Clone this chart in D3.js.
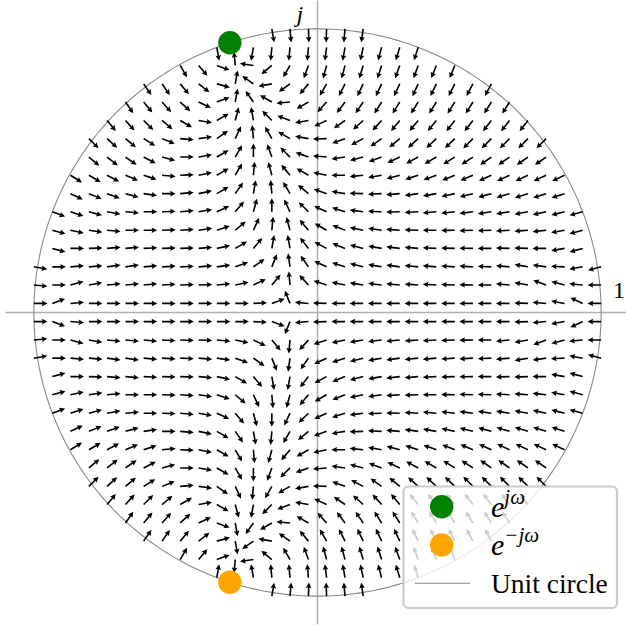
<!DOCTYPE html>
<html lang="en">
<head>
  <meta charset="utf-8">
  <title>gradient field</title>
  <script src="https://d3js.org/d3.v7.min.js"></script>
  <style>
  * { margin:0; padding:0; }
  body { background:#fff; }
  text { font-family: "Liberation Serif", "Times New Roman", serif; }
  </style>
</head>
<body>
  <div id="chart"></div>
  <script type="text/javascript">
  var W=626, H=626;

  // arrow grid (same values along re and im)
  var gridVals=[-1.000,-0.935,-0.871,-0.806,-0.742,-0.677,-0.613,-0.548,-0.484,-0.419,-0.355,-0.290,-0.226,-0.161,-0.097,-0.032,
                 0.032, 0.097, 0.161, 0.226, 0.290, 0.355, 0.419, 0.484, 0.548, 0.613, 0.677, 0.742, 0.806, 0.871, 0.935, 1.000];

  // arrow directions in degrees (0 = right, 90 = up), one row per im value from +1 down to -1
  var _=null;
  var angles=[
    [_,_,_,_,_,_,_,_,_,_,_,_,_,280,275,272,268,265,262,_,_,_,_,_,_,_,_,_,_,_,_,_],
    [_,_,_,_,_,_,_,_,_,_,280,150,260,265,265,265,263,260,258,255,253,252,_,_,_,_,_,_,_,_,_,_],
    [_,_,_,_,_,_,_,_,300,310,340,95,172,220,240,250,255,255,253,252,250,250,248,248,_,_,_,_,_,_,_,_],
    [_,_,_,_,_,_,305,305,310,322,345,80,145,190,215,230,240,243,245,245,245,245,244,243,242,242,_,_,_,_,_,_],
    [_,_,_,_,_,305,310,312,318,335,20,80,125,150,185,210,228,233,236,238,238,238,238,238,238,238,238,_,_,_,_,_],
    [_,_,_,_,310,312,315,320,330,350,30,75,100,135,160,190,205,215,222,228,230,230,231,232,232,232,232,232,_,_,_,_],
    [_,_,_,315,318,320,328,338,355,8,35,65,95,120,150,170,182,200,208,215,220,222,223,224,225,225,225,225,225,_,_,_],
    [_,_,_,320,322,325,333,345,0,10,30,60,90,110,135,160,175,188,195,200,205,208,210,212,213,215,215,215,215,_,_,_],
    [_,_,328,330,332,337,342,355,2,12,30,60,85,105,130,150,168,180,186,190,195,198,200,202,203,204,205,205,205,205,_,_],
    [_,_,335,338,340,345,352,0,5,12,30,55,80,95,120,140,160,170,178,182,185,188,190,192,194,195,196,197,198,198,_,_],
    [_,340,342,345,350,355,0,2,5,10,25,50,75,90,115,135,155,162,172,178,181,183,185,186,187,188,189,190,192,194,195,_],
    [_,345,348,352,355,0,0,2,3,8,18,40,65,85,105,130,150,158,168,172,176,178,180,181,182,182,183,184,186,190,195,_],
    [_,345,0,2,5,5,3,2,2,5,12,30,50,80,100,128,152,158,165,170,173,175,177,178,179,180,178,178,180,190,195,_],
    [350,0,5,5,8,8,5,3,2,5,8,20,35,68,98,125,155,162,166,170,172,174,175,176,177,178,175,170,172,178,190,195],
    [355,0,15,10,5,5,5,3,2,2,5,12,25,50,95,132,162,168,171,173,175,176,177,178,179,180,175,170,160,165,175,180],
    [0,20,5,0,0,0,0,0,0,0,0,0,3,20,112,175,178,180,180,180,180,180,180,180,180,180,180,178,175,170,155,180],
    [0,340,355,0,0,0,0,0,0,0,0,0,357,340,248,185,182,180,180,180,180,180,180,180,180,180,180,182,185,190,205,180],
    [5,0,345,350,355,355,355,357,358,358,355,348,335,310,265,228,198,192,189,187,185,184,183,182,181,180,185,190,200,195,185,180],
    [10,0,355,355,352,352,355,357,358,355,352,340,325,292,262,235,205,198,194,190,188,186,185,184,183,182,185,190,188,182,170,165],
    [_,15,0,358,355,355,357,358,358,355,348,330,310,280,260,232,208,202,195,190,187,185,183,182,181,180,182,182,180,170,165,_],
    [_,15,12,8,5,0,0,358,357,352,342,320,295,275,255,230,210,202,192,188,184,182,180,179,178,178,177,176,174,170,165,_],
    [_,20,18,15,10,5,0,358,355,350,335,310,285,270,245,225,205,198,188,182,179,177,175,174,173,172,171,170,168,166,165,_],
    [_,_,25,22,20,15,8,0,355,348,330,305,280,265,240,220,200,190,182,178,175,172,170,168,166,165,164,163,162,162,_,_],
    [_,_,32,30,28,23,18,5,358,348,330,300,275,255,230,210,192,180,174,170,165,162,160,158,157,156,155,155,155,155,_,_],
    [_,_,_,40,38,35,27,15,0,350,330,300,270,250,225,200,185,172,165,160,155,152,150,148,147,145,145,145,145,_,_,_],
    [_,_,_,45,42,40,32,22,5,352,325,295,265,240,210,190,178,160,152,145,140,138,137,136,135,135,135,135,135,_,_,_],
    [_,_,_,_,50,48,45,40,30,10,330,285,260,225,200,170,155,145,138,132,130,130,129,128,128,128,128,128,_,_,_,_],
    [_,_,_,_,_,55,50,48,42,25,340,280,235,210,175,150,132,127,124,122,122,122,122,122,122,122,122,_,_,_,_,_],
    [_,_,_,_,_,_,55,55,50,38,15,280,215,170,145,130,120,117,115,115,115,115,116,117,118,118,_,_,_,_,_,_],
    [_,_,_,_,_,_,_,_,60,50,20,265,188,140,120,110,105,105,107,108,110,110,112,112,_,_,_,_,_,_,_,_],
    [_,_,_,_,_,_,_,_,_,_,80,210,100,95,95,95,97,100,102,105,107,108,_,_,_,_,_,_,_,_,_,_],
    [_,_,_,_,_,_,_,_,_,_,_,_,_,80,85,88,92,95,98,_,_,_,_,_,_,_,_,_,_,_,_,_]
  ];

  var pointLabels=["e^{jω}","e^{−jω}"];
  var pointRe=[-0.309,-0.309];
  var pointIm=[0.951,-0.951];
  var pointColors=["green","orange"];

  var svg=d3.select("#chart").append("svg")
    .attr("width",W).attr("height",H);

  var x=d3.scaleLinear().domain([-1.1,1.1]).range([5.5,629.5]);
  var y=d3.scaleLinear().domain([-1.1,1.1]).range([624.5,0.5]);

  // axis lines
  svg.append("line")
    .attr("x1",x(-1.1)).attr("x2",x(1.1)).attr("y1",y(0)).attr("y2",y(0))
    .style("stroke","#b0b0b0").style("stroke-width",1.5);
  svg.append("line")
    .attr("x1",x(0)).attr("x2",x(0)).attr("y1",y(1.1)).attr("y2",y(-1.1))
    .style("stroke","#b0b0b0").style("stroke-width",1.5);

  // unit circle
  var circ=d3.range(0,361,1).map(function(a){
    return [Math.cos(a*Math.PI/180),Math.sin(a*Math.PI/180)];
  });
  svg.append("path")
    .datum(circ)
    .attr("d",d3.line().x(function(d){return x(d[0]);}).y(function(d){return y(d[1]);}))
    .style("fill","none").style("stroke","#888").style("stroke-width",1.1);

  // arrows (tail at grid point)
  var arrows=[];
  angles.forEach(function(row,j){
    row.forEach(function(a,i){
      if(a===null) return;
      arrows.push({re:gridVals[i],im:gridVals[gridVals.length-1-j],a:a});
    });
  });
  var L=13.6, sw=0.8, hl=5.6, hw=2.8, ha=5.0;
  var arrowPath="M0,"+(-sw)+"L"+(L-ha)+","+(-sw)+"L"+(L-hl)+","+(-hw)+"L"+L+",0L"+(L-hl)+","+hw+
                "L"+(L-ha)+","+sw+"L0,"+sw+"Z";
  svg.append("g").selectAll("path")
    .data(arrows)
    .enter()
    .append("path")
    .attr("d",arrowPath)
    .attr("transform",function(d){return "translate("+x(d.re)+","+y(d.im)+") rotate("+(-d.a)+")";})
    .style("fill","#000");

  // axis labels
  svg.append("text").attr("x",x(0)-21).attr("y",22)
    .style("font-size","24px").style("font-style","italic").text("j");
  svg.append("text").attr("x",613).attr("y",y(0)-15)
    .style("font-size","24px").text("1");

  // points
  svg.selectAll(".pt")
    .data(pointLabels)
    .enter()
    .append("circle")
    .attr("cx",function(d,i){return x(pointRe[i]);})
    .attr("cy",function(d,i){return y(pointIm[i]);})
    .attr("r",11.7)
    .style("fill",function(d,i){return pointColors[i];});

  // legend
  var lg=svg.append("g");
  lg.append("rect")
    .attr("x",403.5).attr("y",486.5).attr("width",213.5).attr("height",121.5)
    .attr("rx",5).attr("ry",5)
    .style("fill","#fff").style("fill-opacity",0.8)
    .style("stroke","#cccccc").style("stroke-width",2.2);
  var rowsY=[506.7,545];
  pointLabels.forEach(function(lab,i){
    lg.append("circle").attr("cx",441.7).attr("cy",rowsY[i]).attr("r",11.7)
      .style("fill",pointColors[i]);
    var t=lg.append("text").attr("x",491).attr("y",rowsY[i]+10)
      .style("font-size","30px").style("font-style","italic");
    t.append("tspan").text("e");
    t.append("tspan").attr("dy",-13).style("font-size","21px")
      .text(lab.slice(3,-1));
  });
  lg.append("line").attr("x1",415).attr("x2",470).attr("y1",583.3).attr("y2",583.3)
    .style("stroke","#888").style("stroke-width",1.1);
  lg.append("text").attr("x",491).attr("y",592.7)
    .style("font-size","27.5px").text("Unit circle");
  </script>
</body>
</html>
